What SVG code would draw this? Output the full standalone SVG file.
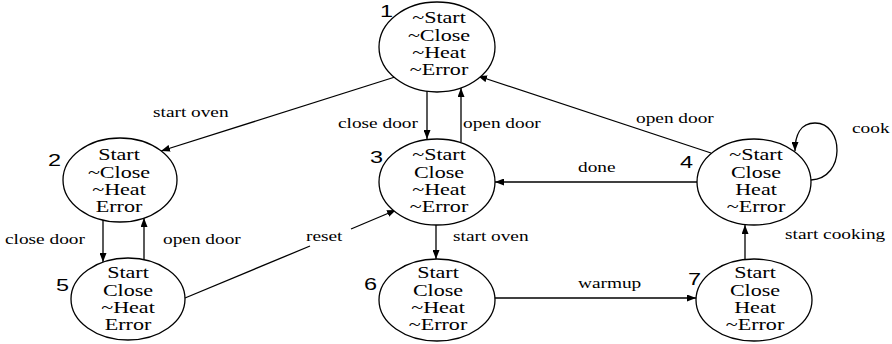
<svg xmlns="http://www.w3.org/2000/svg" width="892" height="344" viewBox="0 0 892 344">
  <style>
    .state { fill: #ffffff; stroke: #000000; stroke-width: 1.3; }
    .st { font-family: "Liberation Serif", "Times New Roman", serif; font-size: 16px; fill: #000000; text-anchor: middle; }
    .num { font-family: "Liberation Sans", Arial, sans-serif; font-size: 17px; fill: #000000; }
    .lbl { font-family: "Liberation Serif", "Times New Roman", serif; font-size: 14px; fill: #000000; }
    .edge { fill: none; stroke: #000000; stroke-width: 1.3; }
    .arrow { marker-end: url(#arr); }
  </style>
  <defs>
    <marker id="arr" viewBox="0 0 9 7" refX="9" refY="3.5" markerWidth="9" markerHeight="7" markerUnits="userSpaceOnUse" orient="auto">
      <path d="M0,0 L9,3.5 L0,7 z" fill="#000000"/>
    </marker>
  </defs>
  <rect width="892" height="344" fill="#ffffff"/>

  <!-- transitions -->
  <g id="connectors">
    <path class="edge arrow" d="M395,77 L161,151"/>
    <path class="edge arrow" d="M427,91 L427,139"/>
    <path class="edge arrow" d="M461,142 L461,88"/>
    <path class="edge arrow" d="M711,153 L478,76"/>
    <path class="edge arrow" d="M697,182 L495,182"/>
    <path class="edge arrow" d="M811,180 C846,178 844,123 815,123 C800,123 795,136 795,151"/>
    <path class="edge arrow" d="M103,220 L103,262"/>
    <path class="edge arrow" d="M144,260 L144,218"/>
    <path class="edge" d="M185,298 L310,246"/>
    <path class="edge arrow" d="M351,229 L396,210"/>
    <path class="edge arrow" d="M436,225 L436,259"/>
    <path class="edge arrow" d="M495,298 L696,298"/>
    <path class="edge arrow" d="M745,259 L745,225"/>

    <text class="lbl" transform="translate(153,117) scale(1.38,1)">start oven</text>
    <text class="lbl" transform="translate(338,128) scale(1.38,1)">close door</text>
    <text class="lbl" transform="translate(463,128) scale(1.38,1)">open door</text>
    <text class="lbl" transform="translate(636,123) scale(1.38,1)">open door</text>
    <text class="lbl" transform="translate(578,172) scale(1.38,1)">done</text>
    <text class="lbl" transform="translate(852,133) scale(1.38,1)">cook</text>
    <text class="lbl" transform="translate(5,244) scale(1.38,1)">close door</text>
    <text class="lbl" transform="translate(163,244) scale(1.38,1)">open door</text>
    <text class="lbl" transform="translate(306,241) scale(1.38,1)">reset</text>
    <text class="lbl" transform="translate(453,241) scale(1.38,1)">start oven</text>
    <text class="lbl" transform="translate(578,288) scale(1.38,1)">warmup</text>
    <text class="lbl" transform="translate(785,239) scale(1.38,1)">start cooking</text>
  </g>

  <!-- states -->
  <g id="n1">
    <ellipse class="state" cx="437" cy="47" rx="58" ry="45"/>
    <text class="num" transform="translate(380,17) scale(1.38,1)">1</text>
    <g transform="translate(439,45) scale(1.38,1)">
      <text class="st" y="-22">~Start</text>
      <text class="st" y="-4.5">~Close</text>
      <text class="st" y="13">~Heat</text>
      <text class="st" y="30.5">~Error</text>
    </g>
  </g>

  <g id="n2">
    <ellipse class="state" cx="120" cy="180" rx="57" ry="42"/>
    <text class="num" transform="translate(48,166) scale(1.38,1)">2</text>
    <g transform="translate(119,182) scale(1.38,1)">
      <text class="st" y="-22">Start</text>
      <text class="st" y="-4.5">~Close</text>
      <text class="st" y="13">~Heat</text>
      <text class="st" y="30.5">Error</text>
    </g>
  </g>

  <g id="n3">
    <ellipse class="state" cx="437" cy="182" rx="58" ry="43"/>
    <text class="num" transform="translate(370,163) scale(1.38,1)">3</text>
    <g transform="translate(439,182) scale(1.38,1)">
      <text class="st" y="-22">~Start</text>
      <text class="st" y="-4.5">Close</text>
      <text class="st" y="13">~Heat</text>
      <text class="st" y="30.5">~Error</text>
    </g>
  </g>

  <g id="n4">
    <ellipse class="state" cx="754" cy="182" rx="57" ry="43"/>
    <text class="num" transform="translate(680,168) scale(1.38,1)">4</text>
    <g transform="translate(756,182) scale(1.38,1)">
      <text class="st" y="-22">~Start</text>
      <text class="st" y="-4.5">Close</text>
      <text class="st" y="13">Heat</text>
      <text class="st" y="30.5">~Error</text>
    </g>
  </g>

  <g id="n5">
    <ellipse class="state" cx="128" cy="299" rx="57" ry="41"/>
    <text class="num" transform="translate(56,291) scale(1.38,1)">5</text>
    <g transform="translate(128,300) scale(1.38,1)">
      <text class="st" y="-22">Start</text>
      <text class="st" y="-4.5">Close</text>
      <text class="st" y="13">~Heat</text>
      <text class="st" y="30.5">Error</text>
    </g>
  </g>

  <g id="n6">
    <ellipse class="state" cx="437" cy="300" rx="58" ry="41"/>
    <text class="num" transform="translate(364,290) scale(1.38,1)">6</text>
    <g transform="translate(438,300) scale(1.38,1)">
      <text class="st" y="-22">Start</text>
      <text class="st" y="-4.5">Close</text>
      <text class="st" y="13">~Heat</text>
      <text class="st" y="30.5">~Error</text>
    </g>
  </g>

  <g id="n7">
    <ellipse class="state" cx="754" cy="300" rx="58" ry="41"/>
    <text class="num" transform="translate(688,285) scale(1.38,1)">7</text>
    <g transform="translate(755,300) scale(1.38,1)">
      <text class="st" y="-22">Start</text>
      <text class="st" y="-4.5">Close</text>
      <text class="st" y="13">Heat</text>
      <text class="st" y="30.5">~Error</text>
    </g>
  </g>
</svg>
